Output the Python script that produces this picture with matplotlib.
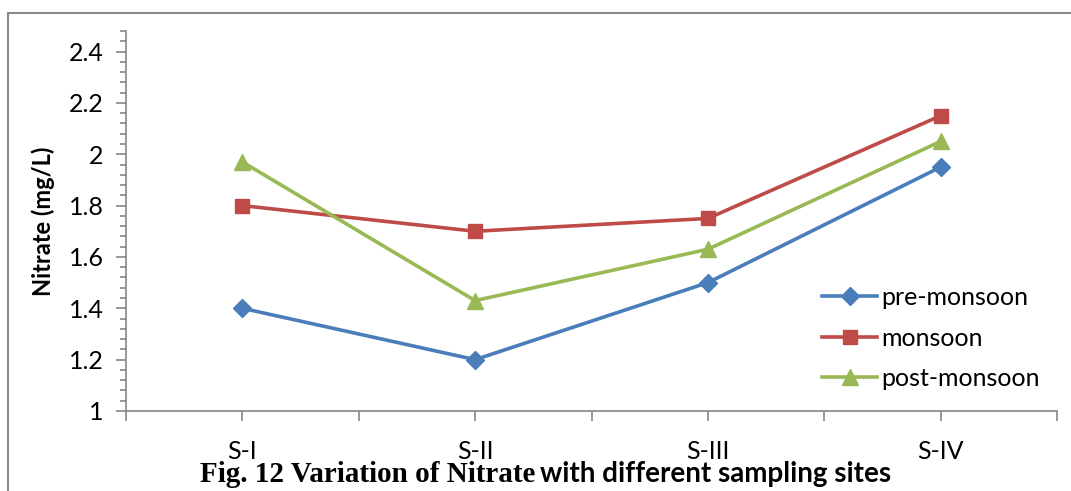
import numpy as np
import matplotlib.pyplot as plt
from matplotlib.lines import Line2D

sites = ['S-I', 'S-II', 'S-III', 'S-IV']
pre_monsoon = [1.40, 1.20, 1.50, 1.95]
monsoon = [1.80, 1.70, 1.75, 2.15]
post_monsoon = [1.97, 1.43, 1.63, 2.05]

plt.rcParams['font.family'] = ['Lato', 'DejaVu Sans']

fig = plt.figure(figsize=(10.71, 4.91), dpi=100)
ax = fig.add_axes([126/1071, 1 - 411/491, (1057 - 126)/1071, (411 - 31)/491])

x = np.arange(len(sites))
ax.plot(x, pre_monsoon, color='#4A7EBB', lw=2.6, marker='D', ms=9, label='pre-monsoon')
ax.plot(x, monsoon, color='#BE4B48', lw=2.6, marker='s', ms=10, label='monsoon')
ax.plot(x, post_monsoon, color='#98B954', lw=2.6, marker='^', ms=11, label='post-monsoon')

ax.set_xlim(-0.5, 3.5)
ax.set_ylim(1, 2.48)
ax.set_yticks(np.arange(1, 2.41, 0.2))
ax.set_yticklabels(['1', '1.2', '1.4', '1.6', '1.8', '2', '2.2', '2.4'])
ax.set_yticks(np.arange(1, 2.481, 0.04), minor=True)
ax.set_xticks(x)
ax.set_xticklabels(sites)
ax.set_xticks(np.arange(-0.5, 3.51, 1), minor=True)

for s in ['top', 'right']:
    ax.spines[s].set_visible(False)
for s in ['left', 'bottom']:
    ax.spines[s].set_color('#868686')
    ax.spines[s].set_linewidth(1.2)
ax.tick_params(which='both', direction='out', color='#868686', width=1.2, labelsize=18)
ax.tick_params(axis='y', which='major', length=7, pad=9)
ax.tick_params(axis='y', which='minor', length=4)
ax.tick_params(axis='x', which='both', length=7, pad=14)
ax.set_ylabel('Nitrate (mg/L)', fontsize=17, fontweight='bold', labelpad=10)

ax.legend(loc='upper left', bbox_to_anchor=(0.737, 0.355), frameon=False, fontsize=18,
          handlelength=2.2, labelspacing=0.7, handletextpad=0.15, borderaxespad=0)

# outer chart border
fig.add_artist(Line2D([8/1071, 8/1071], [0, 1 - 13/491], color='#888888', lw=1.5))
fig.add_artist(Line2D([8/1071, 1], [1 - 13/491, 1 - 13/491], color='#888888', lw=1.5))

fig.text(0.187, 0.018, 'Fig. 12 Variation of Nitrate', family='Liberation Serif',
         fontweight='bold', fontsize=21, ha='left', va='baseline')
fig.text(0.504, 0.018, 'with different sampling sites', fontweight='bold',
         fontsize=20, ha='left', va='baseline')

fig.savefig('out.png', dpi=100)
